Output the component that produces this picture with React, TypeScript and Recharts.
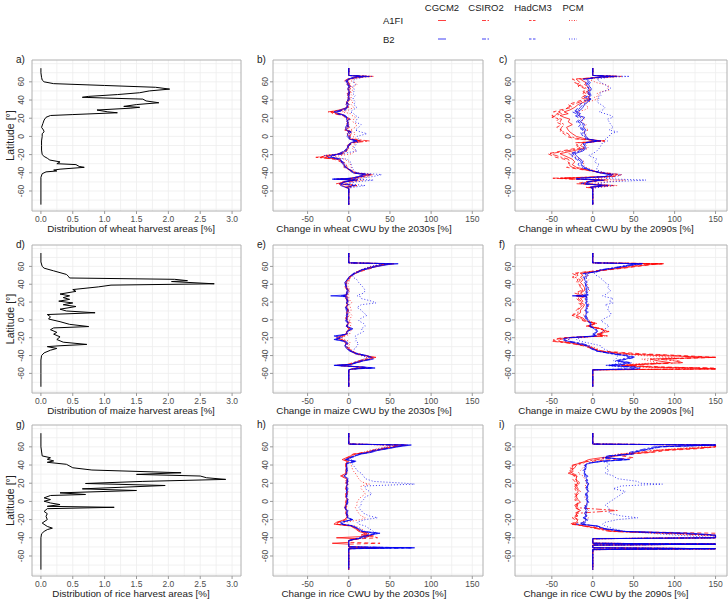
import React from 'react';
import { LineChart, Line, XAxis, YAxis, CartesianGrid, ReferenceArea } from 'recharts';

const RED = '#FF0000';
const BLUE = '#0000F0';
const FONT = "'Liberation Sans', Arial, sans-serif";

const models = ['CGCM2', 'CSIRO2', 'HadCM3', 'PCM'];
const scenarios = ['A1FI', 'B2'];
const dashes = ['', '6 2 2 2', '4 3', '1 2'];

const latTicks = [-60, -40, -20, 0, 20, 40, 60];
const latGrid = [-80, -70, -60, -50, -40, -30, -20, -10, 0, 10, 20, 30, 40, 50, 60, 70, 80];
const areaTicks = [0, 0.5, 1, 1.5, 2, 2.5, 3];
const areaGrid = [0, 0.25, 0.5, 0.75, 1, 1.25, 1.5, 1.75, 2, 2.25, 2.5, 2.75, 3];
const changeTicks = [-50, 0, 50, 100, 150];
const changeGrid = [-75, -50, -25, 0, 25, 50, 75, 100, 125, 150];

// harvest area distributions (% per latitude)
const wheatAreaLat = [75, 70, 65, 62, 60, 58, 56, 54, 52, 50, 48, 46, 44, 43, 42, 41, 39, 37, 35, 33, 32, 31, 29, 27, 26, 24, 23, 21, 18, 14, 10, 7, 5, 3, 0, -5, -10, -15, -20, -22, -24, -26, -28, -30, -31, -33, -34, -36, -37, -38, -39, -41, -45, -60, -75];
const wheatArea = [0, 0, 0.01, 0.02, 0.05, 0.2, 1.0, 1.8, 2.02, 1.7, 1.55, 1.2, 0.75, 0.65, 1.1, 1.6, 1.65, 1.85, 1.5, 1.3, 1.55, 1.4, 0.88, 1.05, 1.2, 0.5, 0.15, 0.08, 0.05, 0.03, 0.01, 0.04, 0.05, 0.02, 0.02, 0.01, 0.01, 0.01, 0.02, 0.05, 0.1, 0.14, 0.3, 0.25, 0.55, 0.6, 0.68, 0.3, 0.2, 0.25, 0.08, 0.02, 0, 0, 0];

const maizeAreaLat = [75, 65, 60, 58, 55, 51, 49, 47, 45.5, 44, 43, 40.5, 39, 37, 34, 32, 29, 27, 25, 23, 21, 19, 17, 15, 12, 10, 8, 6, 3.5, 1, -2, -5, -7.5, -9, -11, -14, -16, -19, -22, -25, -27.5, -29, -30, -32, -34, -37, -40, -45, -60, -75];
const maizeArea = [0, 0, 0.02, 0.05, 0.2, 0.4, 0.43, 0.45, 2.1, 2.3, 2.05, 2.72, 1.1, 0.9, 0.5, 0.55, 0.3, 0.45, 0.35, 0.45, 0.28, 0.5, 0.35, 0.55, 0.3, 0.4, 0.85, 0.1, 0.15, 0.12, 0.3, 0.45, 0.75, 0.2, 0.15, 0.25, 0.2, 0.3, 0.25, 0.35, 0.72, 0.3, 0.1, 0.25, 0.15, 0.05, 0.01, 0, 0, 0];

const riceAreaLat = [75, 60, 50, 48, 46.3, 44.5, 43, 40.8, 37, 34.5, 31.5, 29.7, 27.9, 26, 24.2, 22, 19.7, 17.5, 13.8, 12, 9.4, 7.6, 6.5, 3.9, 2, 0.2, -1.7, -3.5, -5.4, -6.5, -8, -11, -13.5, -16.4, -20, -23.8, -27.5, -29.4, -31, -33, -35.6, -40, -60, -75];
const riceArea = [0, 0, 0.02, 0.15, 0.1, 0.2, 0.1, 0.4, 0.5, 0.8, 2.2, 1.5, 2.5, 2.6, 2.9, 1.6, 0.7, 1.95, 0.65, 1.5, 0.3, 0.7, 0.15, 0.05, 0.15, 0.05, 0.15, 0.3, 0.1, 1.15, 0.1, 0.05, 0.1, 0.08, 0.1, 0.02, 0.1, 0.18, 0.1, 0.05, 0.01, 0, 0, 0];

// latitudes of the CWU change profiles, one list per crop
const wheatLat = [
  75, 67, 66, 65, 63, 61, 59, 57, 55, 53,
  51, 49, 47, 45, 43, 41, 38, 35, 32, 29,
  27, 25, 23, 21, 19, 16, 13, 10, 7, 5,
  3, 0, -3, -5, -7, -10, -13, -16, -19, -21,
  -23, -25, -28, -31, -34, -37, -40, -42, -44, -46,
  -47, -48, -50, -52, -54, -56, -57, -75,
];
const maizeLat = [
  75, 64, 63, 62, 60, 58, 56, 54, 52, 50,
  48, 45, 42, 39, 36, 33, 30, 28, 27, 26,
  24, 21, 19, 17, 14, 11, 8, 5, 2, -1,
  -4, -7, -10, -13, -16, -18, -20, -22, -24, -26,
  -29, -32, -35, -38, -40, -42, -44, -46, -48, -50,
  -51, -53, -54, -55, -56, -75,
];
const riceLat = [
  75, 63, 62, 60, 58, 56, 54, 52, 50, 48,
  46, 44, 42, 40, 37, 34, 31, 28, 25, 22,
  20, 19, 17, 14, 11, 8, 5, 2, -1, -4,
  -7, -10, -13, -16, -18, -20, -23, -25, -27, -30,
  -33, -35, -37, -38, -40, -41, -43, -45, -46, -47,
  -48, -50, -51, -52, -53, -75,
];

// series order: A1FI CGCM2, CSIRO2, HadCM3, PCM, then B2 CGCM2, CSIRO2, HadCM3, PCM
const wheat2030s = [
  [0, 0, 18, 8, 2, -3, 0, -2, 1, -1, 0, 2, -2, 0, -1, 1, -3, -2, 0, -12, -22, -10, -5, -3, -1, -2, 0, -3, -4, 1, -2, 0, 2, 14, 3, -2, 0, -4, -8, -28, -35, -12, -8, -6, -4, 2, 8, 25, 18, 5, -15, 8, -5, -12, -8, -3, 0, 0],
  [0, 0, 25, 10, -2, -5, 2, 0, 3, 1, -2, 0, 1, -2, 0, 2, -1, -4, -2, -8, -25, -15, -8, -2, 2, 0, -2, 1, -5, 3, 0, 2, 5, 25, 6, 0, -2, -5, -12, -20, -40, -15, -6, -3, -2, 0, 5, 20, 12, 2, -10, 12, -3, -15, 5, -5, 0, 0],
  [0, 0, 30, 12, 0, -2, -4, 1, -1, 2, 1, -1, 0, 1, -2, 0, -4, 1, -3, -5, -18, -20, -6, -5, 0, -4, -2, -1, -2, 4, 3, 1, 0, 18, 2, 1, -3, -2, -6, -22, -30, -18, -10, -5, -6, 1, 6, 30, 15, 8, -12, 5, -8, -10, 10, -2, 0, 0],
  [0, 0, 22, 15, 5, 3, 8, 10, 6, 4, 5, 3, 2, 4, 3, 2, 5, 3, 6, 0, -8, 2, 4, 8, 6, 5, 10, 8, 2, 6, 8, 5, 10, 12, 8, 6, 4, 8, 4, -10, -20, -5, 0, 2, 3, 4, 8, 22, 25, 12, 0, 18, 5, -5, 10, 3, 0, 0],
  [0, 0, 15, 5, 0, -4, -1, -2, 0, -1, -1, 1, -1, 0, 0, -1, -2, -1, -2, -10, -18, -12, -4, -2, -3, -1, -2, -4, -3, 0, -1, -2, 1, 8, 2, -1, -2, -5, -10, -22, -20, -10, -9, -7, -3, 1, 5, 18, 12, 3, -20, 6, -6, -8, -10, -4, 0, 0],
  [0, 0, 20, 8, -1, -3, 1, -1, 2, 0, 0, 1, 0, -1, 1, 1, -2, -3, -1, -6, -15, -12, -6, -3, 1, -1, -1, 0, -4, 2, 1, 1, 3, 10, 4, 0, -1, -6, -12, -18, -22, -12, -7, -5, -3, 2, 6, 22, 14, 4, -18, 10, -4, -12, 6, -3, 0, 0],
  [0, 0, 25, 10, 1, -2, -3, 0, 0, 1, 1, 0, 1, 0, -1, 1, -3, 0, -2, -4, -14, -15, -5, -4, 1, -3, -1, -2, -1, 3, 2, 0, 1, 12, 3, 0, -2, -3, -7, -20, -25, -14, -8, -4, -5, 2, 7, 26, 16, 6, -14, 7, -7, -9, 8, -2, 0, 0],
  [0, 0, 28, 18, 8, 5, 6, 8, 5, 6, 7, 6, 5, 8, 6, 5, 8, 6, 10, 5, 2, 6, 8, 12, 10, 8, 15, 12, 8, 14, 22, 10, 12, 14, 10, 8, 6, 10, -8, -30, -20, -2, 2, 3, 4, 6, 10, 40, 30, 15, 5, 30, 8, -2, 20, 5, 0, 0],
];

const wheat2090s = [
  [0, 0, 25, 5, -15, -12, -8, -10, -6, -5, -3, -8, -5, -4, -6, -3, -10, -18, -22, -28, -35, -30, -40, -35, -28, -30, -25, -32, -30, -28, -25, -20, -8, 10, -12, -15, -10, -25, -40, -35, -30, -25, -22, -25, -20, -5, 10, 25, 20, -40, -15, 10, -8, -10, 15, -3, 0, 0],
  [0, 0, 30, 10, -20, -18, -15, -20, -12, -8, -10, -12, -8, -10, -12, -5, -15, -25, -30, -35, -42, -38, -45, -50, -38, -40, -35, -38, -40, -36, -30, -28, -15, 14, -18, -20, -15, -32, -52, -45, -38, -30, -28, -30, -25, -8, 12, 30, 25, -50, -20, 15, -5, -15, 20, -5, 0, 0],
  [0, 0, 35, 15, -25, -20, -22, -15, -18, -10, -12, -10, -12, -8, -15, -10, -20, -30, -25, -40, -48, -42, -50, -45, -42, -45, -38, -44, -38, -40, -35, -32, -20, 15, -22, -18, -20, -38, -55, -50, -45, -35, -30, -28, -32, -10, 15, 35, 28, -35, -25, 18, -10, -20, 25, -8, 0, 0],
  [0, 0, 28, 12, -5, 0, 5, 15, 20, 18, 20, 10, 5, 8, 2, 6, -5, -10, -5, -10, -20, -15, -18, -12, -10, -15, -8, -10, -5, -12, -8, -10, -5, 8, -6, -8, -5, -15, -30, -25, -20, -15, -10, -12, -8, 0, 8, 28, 22, 10, 0, 40, 15, -5, 30, 5, 0, 0],
  [0, 0, 20, 5, -8, -5, -3, -5, -4, -2, -2, -4, -3, -2, -5, -2, -6, -10, -12, -15, -20, -15, -18, -10, -12, -15, -10, -12, -8, -10, -10, -8, -5, 6, -8, -10, -8, -12, -22, -20, -18, -15, -12, -14, -10, -3, 8, 20, 15, -15, -20, 8, -6, -8, 10, -3, 0, 0],
  [0, 0, 25, 8, -10, -8, -5, -8, -6, -4, -5, -6, -4, -5, -8, -3, -8, -12, -15, -18, -22, -18, -20, -15, -14, -18, -12, -15, -10, -12, -12, -10, -6, 8, -10, -12, -10, -15, -25, -22, -22, -18, -14, -15, -12, -4, 10, 22, 18, -10, -10, 12, -4, -12, 15, -2, 0, 0],
  [0, 0, 30, 10, -12, -10, -8, -6, -8, -5, -6, -5, -6, -3, -10, -6, -12, -15, -18, -20, -25, -20, -22, -18, -16, -20, -15, -18, -12, -15, -14, -12, -8, 10, -12, -10, -12, -18, -28, -25, -25, -20, -16, -18, -14, -5, 12, 26, 20, -20, -15, 14, -8, -14, 18, -4, 0, 0],
  [0, 0, 45, 20, 5, 8, 10, 15, 18, 22, 18, 12, 8, 10, 6, 8, 5, 10, 15, 12, 8, 15, 22, 25, 18, 20, 22, 25, 20, 30, 22, 20, 15, 18, 12, 10, 8, 5, 0, -5, 0, 5, 2, 8, 5, 5, 15, 35, 30, 15, 30, 65, 20, 5, 25, 8, 0, 0],
];

const maize2030s = [
  [0, 0, 55, 45, 35, 25, 18, 12, 8, 4, 1, -2, -4, -3, -3, -1, -3, -2, -6, -3, -4, -1, -3, -2, -4, -1, -3, -2, -4, -2, -1, -3, 0, -2, -4, -10, -15, -8, -5, -3, -4, -2, 2, 8, 18, 33, 25, 15, 8, 2, -15, 15, 20, 5, 0, 0],
  [0, 0, 45, 40, 30, 22, 15, 10, 6, 3, 2, 0, -2, -4, -2, 0, -1, -3, -4, -2, -2, 0, -1, -3, -2, 0, -2, 1, -3, 0, 1, -2, 2, -1, -3, -6, -12, -10, -3, -1, -2, 0, 4, 10, 22, 28, 20, 12, 5, -2, -12, 18, 22, 3, 0, 0],
  [0, 0, 50, 42, 32, 28, 20, 14, 7, 5, 0, -1, -3, -5, -4, -2, -2, -4, -5, -4, -3, -2, -4, -1, -3, -2, -1, -3, -2, -1, 0, -4, 1, -3, -2, -8, -14, -12, -6, -4, -3, -1, 3, 12, 20, 30, 22, 18, 10, 0, -14, 12, 25, 6, 0, 0],
  [0, 0, 40, 38, 28, 20, 14, 10, 6, 4, 2, 1, 0, -2, 0, 1, 0, -1, -3, 0, 0, 2, 4, 1, 2, 3, 1, 4, 2, 1, 3, 2, 4, 2, 1, -4, -8, -5, 0, 2, 0, 1, 5, 10, 18, 25, 20, 12, 6, 0, -8, 10, 18, 4, 0, 0],
  [0, 0, 60, 48, 35, 25, 15, 12, 7, 3, 0, -2, -5, -4, -3, -2, -3, -2, -22, -4, -3, -2, -3, -1, -4, -3, -2, -3, -2, -4, -1, -3, 5, -2, -3, -18, -10, -18, -6, -2, -5, -3, 1, 10, 22, 28, 30, 18, 10, 3, -18, 20, 32, 5, 0, 0],
  [0, 0, 48, 40, 30, 22, 16, 11, 5, 3, 1, -1, -3, -4, -2, -1, -2, -3, -8, -2, -2, -1, -2, 0, -3, -1, 0, -2, -3, -2, 0, -2, 3, -1, -2, -12, -8, -15, -4, -1, -3, -1, 2, 12, 20, 25, 26, 15, 8, 1, -16, 16, 28, 4, 0, 0],
  [0, 0, 52, 44, 32, 26, 18, 13, 8, 4, 1, -2, -4, -3, -3, -1, -1, -3, -10, -3, -3, -1, -2, -2, -3, -2, -1, -2, -1, -3, 0, -3, 2, -2, -3, -15, -12, -16, -5, -3, -4, -2, 3, 9, 20, 26, 28, 16, 9, 2, -17, 18, 30, 6, 0, 0],
  [0, 0, 42, 38, 26, 20, 15, 10, 6, 5, 5, 10, 12, 15, 18, 20, 18, 12, 10, 14, 15, 28, 33, 15, 10, 15, 18, 22, 15, 12, 18, 20, 15, 18, 12, 8, 8, 10, 8, 12, 10, 8, 3, 8, 15, 22, 18, 12, 6, 2, -5, 12, 20, 4, 0, 0],
];

const maize2090s = [
  [0, 0, 85, 70, 50, 35, 15, 0, -15, -12, -15, -12, -15, -12, -10, -10, -15, -12, -18, -10, -15, -12, -14, -10, -12, -15, -15, -20, -12, -8, 2, -5, 10, 15, 5, 12, -30, -40, -42, -25, -8, 0, 8, 35, 80, 150, 70, 80, 95, 55, 35, 70, 120, 150, 0, 0],
  [0, 0, 80, 65, 45, 30, 12, -5, -20, -18, -22, -15, -18, -15, -14, -12, -18, -15, -20, -14, -18, -14, -16, -12, -15, -18, -18, -25, -15, -10, 5, -8, 12, 18, 8, 15, -35, -45, -50, -28, -10, 2, 10, 45, 100, 130, 80, 100, 110, 60, 40, 80, 140, 150, 0, 0],
  [0, 0, 88, 72, 55, 38, 18, -8, -25, -20, -25, -18, -20, -16, -15, -14, -22, -15, -22, -16, -20, -16, -18, -14, -16, -20, -22, -25, -18, -12, 3, -6, 8, 20, 6, 18, -38, -48, -45, -30, -12, -2, 12, 60, 110, 150, 90, 105, 110, 50, 45, 90, 150, 150, 0, 0],
  [0, 0, 70, 55, 40, 28, 14, 2, -8, -5, -10, -5, -8, -6, -5, -4, -10, -8, -12, -6, -10, -8, -6, -4, -6, -10, -8, -12, -6, -4, 4, -2, 10, 12, 8, 10, -25, -30, -35, -18, -5, 5, 10, 30, 60, 100, 60, 70, 80, 40, 30, 60, 100, 120, 0, 0],
  [0, 0, 60, 50, 38, 25, 10, 4, -10, -8, -10, -10, -8, -9, -8, -7, -8, -6, -25, -8, -8, -7, -9, -6, -8, -8, -7, -9, -8, -6, -2, -4, 2, 5, 0, 3, -30, -35, -30, -20, -6, -2, 5, 25, 40, 50, 40, 30, 45, 35, 20, 50, 55, 55, 0, 0],
  [0, 0, 55, 45, 35, 22, 8, 3, -8, -6, -8, -8, -7, -8, -6, -5, -7, -5, -15, -7, -7, -6, -8, -5, -7, -6, -6, -8, -7, -5, -1, -3, 3, 6, 2, 4, -25, -30, -28, -15, -4, 0, 6, 22, 38, 45, 35, 28, 40, 30, 18, 45, 50, 50, 0, 0],
  [0, 0, 62, 52, 40, 28, 12, 5, -12, -10, -12, -9, -10, -8, -9, -8, -9, -7, -20, -9, -9, -8, -10, -7, -9, -9, -8, -10, -9, -7, -3, -5, 4, 6, 1, 5, -32, -38, -32, -22, -8, -3, 4, 28, 45, 52, 42, 32, 48, 38, 22, 55, 58, 55, 0, 0],
  [0, 0, 55, 48, 35, 25, 12, 6, 2, 4, 8, 12, 15, 20, 18, 22, 18, 15, 12, 15, 25, 20, 25, 15, 20, 18, 22, 22, 15, 10, 15, 20, 15, 12, 8, 5, -15, -20, -15, -5, 10, 12, 20, 25, 30, 30, 28, 25, 35, 25, 15, 35, 40, 40, 0, 0],
];

const rice2030s = [
  [0, 0, 70, 55, 45, 32, 25, 5, 2, -3, -8, -2, -3, -4, -3, -4, -3, -10, -3, -2, -3, -2, -3, -4, -2, -3, -4, -2, -3, -4, -5, -3, -4, -2, -3, -5, -15, -18, 2, 8, 12, 20, 15, 30, -15, 10, 0, 0, -20, 0, 0, 0, 40, 0, 0, 0],
  [0, 0, 60, 50, 40, 28, 22, 8, 4, 0, -5, 0, -2, -3, -2, -3, -2, -6, -2, -1, -2, -1, -2, -3, -1, -2, -3, -1, -2, -3, -4, -2, -3, -1, -2, -4, -12, -15, 4, 10, 15, 22, 18, 25, 20, 8, 0, 0, 0, 0, 0, 0, 30, 0, 0, 0],
  [0, 0, 65, 52, 42, 30, 20, 6, 3, -2, -6, -1, -4, -3, -4, -2, -4, -8, -4, -3, -4, -3, -2, -3, -3, -4, -2, -3, -4, -2, -3, -4, -2, -3, -4, -3, -14, -16, 3, 9, 14, 25, 20, 28, 35, 15, 0, 0, 38, 0, 0, 0, 35, 0, 0, 0],
  [0, 0, 50, 45, 35, 25, 18, 10, 5, 2, 0, 4, 2, 3, 4, 5, 8, 10, 12, 15, 20, 25, 15, 15, 18, 20, 15, 12, 10, 10, 8, 10, 12, 15, 20, 15, -5, -8, 8, 15, 20, 25, 20, 20, 15, 10, 0, 0, 0, 0, 0, 0, 30, 0, 0, 0],
  [0, 0, 76, 60, 48, 35, 28, 15, 8, 2, -4, 8, -2, -3, -2, -3, -3, -5, -2, -1, -2, -1, -3, -2, -3, -2, -3, -1, -2, -3, -5, -2, -3, -2, -1, 5, -10, -8, 5, 12, 18, 38, 25, 20, 15, 12, 0, 0, 0, 0, 0, 0, 80, 0, 0, 0],
  [0, 0, 68, 55, 44, 30, 24, 12, 6, 1, -3, 6, -1, -2, -3, -2, -2, -4, -1, -2, -1, -2, -2, -1, -2, -3, -2, -2, -1, -2, -4, -1, -2, -3, -2, 3, -8, -10, 4, 10, 15, 32, 22, 18, 12, 8, 0, 0, 0, 0, 0, 0, 75, 0, 0, 0],
  [0, 0, 72, 58, 46, 33, 26, 14, 7, 3, -3, 10, -3, -2, -2, -2, -3, -6, -3, -2, -3, -2, -2, -3, -2, -2, -3, -2, -2, -3, -4, -3, -2, -1, -2, 4, -9, -7, 6, 11, 16, 35, 24, 22, 18, 10, 0, 0, 0, 0, 0, 0, 78, 0, 0, 0],
  [0, 0, 55, 48, 38, 28, 22, 12, 8, 5, 3, 6, 4, 5, 8, 10, 15, 18, 20, 30, 68, 80, 20, 20, 25, 28, 20, 18, 15, 15, 12, 15, 18, 25, 35, 20, 10, 12, 20, 25, 30, 35, 28, 25, 20, 10, 0, 0, 0, 0, 0, 0, 60, 0, 0, 0],
];

const rice2090s = [
  [0, 0, 150, 150, 120, 80, 70, 40, 30, 10, -5, -10, -15, -25, -25, -25, -30, -20, -20, -20, -18, -20, -20, -18, -18, -20, -20, -18, -15, -22, -20, -15, -20, -20, -22, -18, -20, -25, -10, 8, 25, 100, 150, 150, 150, 0, 0, 0, 0, 150, 0, 0, 0, 150, 0, 0],
  [0, 0, 150, 150, 110, 75, 60, 35, 25, 20, 5, -8, -12, -20, -22, -28, -25, -18, -22, -18, -15, -18, -22, -20, -15, -18, -22, -20, -18, -20, -18, 30, -18, -22, -20, -20, -18, -22, -12, 5, 20, 90, 140, 150, 150, 0, 0, 0, 0, 150, 0, 0, 0, 150, 0, 0],
  [0, 0, 150, 150, 130, 90, 75, 45, 35, 50, 25, -5, -18, -22, -28, -22, -28, -22, -25, -22, -20, -22, -18, -22, -20, -22, -18, -22, -20, -18, -22, -15, -22, -18, -25, -22, -22, -28, -8, 12, 30, 150, 150, 150, 150, 0, 0, 0, 0, 150, 0, 0, 0, 150, 0, 0],
  [0, 0, 150, 130, 100, 70, 55, 30, 20, 15, 10, 0, -5, -10, -12, -15, -18, -12, -10, -8, -8, -5, -10, -8, -5, -8, -10, -8, -5, -10, -8, -5, -10, -8, -5, -10, -12, -15, 0, 15, 35, 80, 120, 150, 150, 0, 0, 0, 0, 150, 0, 0, 0, 150, 0, 0],
  [0, 0, 150, 80, 70, 60, 50, 50, 20, 15, 45, 10, -5, -10, -8, -10, -10, -8, -8, -7, -6, -5, -7, -8, -6, -8, -7, -8, -6, -8, -10, -8, -10, -8, -12, -8, -10, -15, 5, 15, 40, 120, 150, 150, 150, 0, 0, 0, 0, 150, 0, 0, 0, 150, 0, 0],
  [0, 0, 150, 75, 65, 55, 45, 45, 18, 12, 40, 8, -4, -8, -10, -8, -12, -6, -7, -6, -5, -6, -6, -7, -5, -7, -6, -7, -5, -7, -8, -6, -9, -7, -10, -6, -8, -12, 4, 12, 35, 100, 140, 150, 150, 0, 0, 0, 0, 150, 0, 0, 0, 150, 0, 0],
  [0, 0, 150, 85, 72, 62, 48, 48, 22, 16, 42, 12, -6, -9, -7, -12, -9, -10, -9, -8, -7, -8, -8, -6, -7, -9, -8, -6, -7, -9, -9, -7, -8, -9, -11, -7, -12, -20, 6, 14, 38, 110, 150, 150, 150, 0, 0, 0, 0, 150, 0, 0, 0, 150, 0, 0],
  [0, 0, 140, 80, 75, 60, 50, 40, 25, 20, 15, 10, 20, 20, 15, 20, 15, 25, 30, 55, 58, 85, 35, 25, 40, 35, 30, 25, 20, 15, 20, 20, 20, 35, 55, 30, 15, 12, 15, 25, 40, 70, 100, 120, 150, 0, 0, 0, 0, 150, 0, 0, 0, 150, 0, 0],
];

// plot-box geometry of the 3x3 panel grid
const COLS = [
  { left: 32, w: 209, off: 11, titleX: 131 },
  { left: 273, w: 210, off: 7.5, titleX: 364 },
  { left: 515, w: 212, off: 7, titleX: 606 },
];
const ROWS = [
  { top: 60, h: 151 },
  { top: 245, h: 148 },
  { top: 425, h: 151 },
];
const LAT_DOMAIN: [number, number] = [-82, 84];
const AREA_DOMAIN: [number, number] = [-0.14, 3.14];
const CHANGE_DOMAINS: [number, number][] = [[-92, 163], [-95, 164]];

const toAreaRows = (lat: number[], v: number[]) => lat.map((l, i) => ({ lat: l, v: v[i] }));
const toChangeRows = (lat: number[], series: number[][]) =>
  lat.map((l, i) => {
    const row: Record<string, number> = { lat: l };
    series.forEach((s, k) => (row['s' + k] = s[i]));
    return row;
  });

function Panel({ c, r, data, area }: { c: number; r: number; data: any[]; area: boolean }) {
  const { left, w, off } = COLS[c];
  const { top, h } = ROWS[r];
  const xDomain = area ? AREA_DOMAIN : CHANGE_DOMAINS[c - 1];

  const yTick = (p: any) => {
    const x = 30 - off;
    return (
      <text x={x} y={p.y} dy="0.35em" transform={`rotate(-90 ${x} ${p.y})`} textAnchor="middle" fontSize={8.5} fill="#4D4D4D" fontFamily={FONT}>
        {p.payload.value}
      </text>
    );
  };
  const xTick = (p: any) => (
    <text x={p.x} y={4 + h + 11} textAnchor="middle" fontSize={8.5} fill="#4D4D4D" fontFamily={FONT}>
      {area ? p.payload.value.toFixed(1) : p.payload.value}
    </text>
  );

  return (
    <div style={{ position: 'absolute', left: left - 30, top: top - 4 }}>
      <LineChart width={w + 31} height={h + 34} layout="vertical" data={data} margin={{ top: 4, right: 1, bottom: 0, left: 0 }}>
        <CartesianGrid stroke="#EDEDED" strokeWidth={0.8} horizontalValues={latGrid} verticalValues={area ? areaGrid : changeGrid} />
        <XAxis type="number" domain={xDomain} allowDataOverflow ticks={area ? areaTicks : changeTicks} interval={0} height={30} axisLine={false} tickSize={3} tickLine={{ stroke: '#999' }} tick={xTick} />
        <YAxis type="number" dataKey="lat" reversed domain={LAT_DOMAIN} allowDataOverflow ticks={latTicks} interval={0} width={30} axisLine={false} tickSize={3} tickLine={{ stroke: '#999' }} tick={yTick} />
        <ReferenceArea x1={xDomain[0]} x2={xDomain[1]} y1={LAT_DOMAIN[0]} y2={LAT_DOMAIN[1]} fillOpacity={0} stroke="#B0B0B0" ifOverflow="visible" />
        {area ? (
          <Line dataKey="v" stroke="#000" strokeWidth={1} dot={false} isAnimationActive={false} />
        ) : (
          [0, 1, 2, 3, 4, 5, 6, 7].map((k) => (
            <Line
              key={k}
              dataKey={'s' + k}
              stroke={k < 4 ? RED : BLUE}
              strokeOpacity={0.75}
              strokeDasharray={dashes[k % 4] || undefined}
              strokeWidth={1}
              dot={false}
              isAnimationActive={false}
            />
          ))
        )}
      </LineChart>
    </div>
  );
}

const panels = [
  { c: 0, r: 0, area: true, data: toAreaRows(wheatAreaLat, wheatArea), title: 'Distribution of wheat harvest areas [%]' },
  { c: 1, r: 0, area: false, data: toChangeRows(wheatLat, wheat2030s), title: 'Change in wheat CWU by the 2030s [%]' },
  { c: 2, r: 0, area: false, data: toChangeRows(wheatLat, wheat2090s), title: 'Change in wheat CWU by the 2090s [%]' },
  { c: 0, r: 1, area: true, data: toAreaRows(maizeAreaLat, maizeArea), title: 'Distribution of maize harvest areas [%]' },
  { c: 1, r: 1, area: false, data: toChangeRows(maizeLat, maize2030s), title: 'Change in maize CWU by the 2030s [%]' },
  { c: 2, r: 1, area: false, data: toChangeRows(maizeLat, maize2090s), title: 'Change in maize CWU by the 2090s [%]' },
  { c: 0, r: 2, area: true, data: toAreaRows(riceAreaLat, riceArea), title: 'Distribution of rice harvest areas [%]' },
  { c: 1, r: 2, area: false, data: toChangeRows(riceLat, rice2030s), title: 'Change in rice CWU by the 2030s [%]' },
  { c: 2, r: 2, area: false, data: toChangeRows(riceLat, rice2090s), title: 'Change in rice CWU by the 2090s [%]' },
];
const letters = ['a)', 'b)', 'c)', 'd)', 'e)', 'f)', 'g)', 'h)', 'i)'];

const legendX = [442, 486, 533, 573];
const legendY = [20.5, 39];

export default function App() {
  return (
    <div style={{ position: 'absolute', left: 0, top: 0, width: 728, height: 601, overflow: 'hidden', background: '#fff' }}>
      {panels.map((p, i) => (
        <Panel key={i} c={p.c} r={p.r} data={p.data} area={p.area} />
      ))}
      <svg width={728} height={601} style={{ position: 'absolute', left: 0, top: 0, pointerEvents: 'none' }} fontFamily={FONT}>
        {models.map((m, i) => (
          <text key={m} x={legendX[i]} y={10.5} textAnchor="middle" fontSize={9.5} fill="#222">{m}</text>
        ))}
        {scenarios.map((s, j) => (
          <g key={s}>
            <text x={383} y={legendY[j] + 3.5} fontSize={9.5} fill="#222">{s}</text>
            {models.map((m, i) => (
              <line key={m} x1={legendX[i] - 4} x2={legendX[i] + 4} y1={legendY[j]} y2={legendY[j]} stroke={j === 0 ? RED : BLUE} strokeOpacity={0.75} strokeDasharray={dashes[i] ? (i === 1 ? '4 1.5 1.5 1.5' : i === 2 ? '2.5 1.5' : '1 1.5') : undefined} />
            ))}
          </g>
        ))}
        {panels.map((p, i) => {
          const col = COLS[p.c];
          const row = ROWS[p.r];
          return (
            <g key={i}>
              <text x={col.left - 16} y={row.top + 3} fontSize={10} fill="#222">{letters[i]}</text>
              <text x={col.titleX} y={row.top + row.h + 21} textAnchor="middle" fontSize={9.8} fill="#222">{p.title}</text>
              {p.c === 0 && (
                <text x={10} y={row.top + row.h / 2} dy="0.35em" transform={`rotate(-90 10 ${row.top + row.h / 2})`} textAnchor="middle" fontSize={10.5} fill="#222">
                  Latitude [°]
                </text>
              )}
            </g>
          );
        })}
      </svg>
    </div>
  );
}
